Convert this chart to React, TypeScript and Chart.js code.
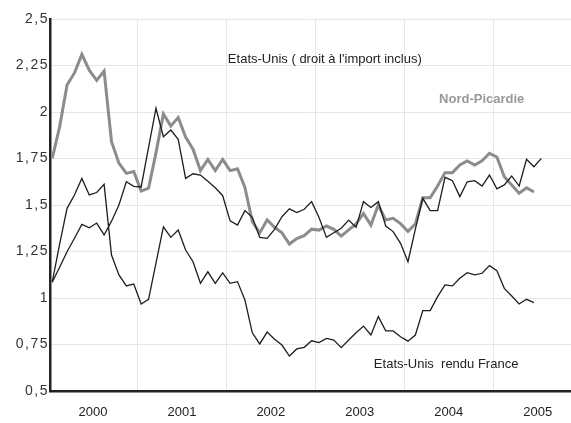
import React, { useEffect, useRef } from 'react';
import { Chart, registerables } from 'chart.js';

Chart.register(...registerables);

const years = ['2000', '2001', '2002', '2003', '2004', '2005'];

const yTicks = [0.5, 0.75, 1, 1.25, 1.5, 1.75, 2, 2.25, 2.5];

const nordPicardie = [
  1.75, 1.92, 2.145, 2.21, 2.31, 2.225, 2.17, 2.22, 1.84, 1.725, 1.67, 1.68,
  1.575, 1.59, 1.78, 1.99, 1.925, 1.97, 1.865, 1.8, 1.685, 1.745, 1.685, 1.745,
  1.685, 1.695, 1.595, 1.41, 1.35, 1.42, 1.38, 1.35, 1.29, 1.32, 1.335, 1.37,
  1.365, 1.387, 1.369, 1.333, 1.366, 1.398, 1.455, 1.392, 1.5, 1.419, 1.428, 1.4,
  1.358, 1.398, 1.539, 1.539, 1.602, 1.674, 1.674, 1.715, 1.737, 1.715, 1.737, 1.778,
  1.758, 1.652, 1.608, 1.563, 1.593, 1.57,
];

const usImport = [
  1.085, 1.165, 1.249, 1.321, 1.396, 1.377, 1.403, 1.339, 1.413, 1.5, 1.625, 1.6,
  1.597, 1.81, 2.02, 1.867, 1.903, 1.853, 1.643, 1.668, 1.661, 1.628, 1.593, 1.55,
  1.415, 1.392, 1.47, 1.434, 1.326, 1.321, 1.369, 1.437, 1.479, 1.459, 1.477, 1.518,
  1.433, 1.326, 1.351, 1.375, 1.419, 1.38, 1.518, 1.487, 1.518, 1.387, 1.357, 1.294,
  1.195, 1.37, 1.536, 1.47, 1.47, 1.649, 1.631, 1.545, 1.625, 1.631, 1.602, 1.661,
  1.587, 1.608, 1.656, 1.602, 1.746, 1.706, 1.751,
];

const usRenduFrance = [
  1.085, 1.29, 1.482, 1.554, 1.643, 1.554, 1.567, 1.611, 1.231, 1.124, 1.065, 1.075,
  0.968, 0.993, 1.187, 1.383, 1.326, 1.366, 1.258, 1.195, 1.079, 1.141, 1.079, 1.135,
  1.079, 1.088, 0.989, 0.813, 0.753, 0.817, 0.778, 0.747, 0.688, 0.726, 0.735, 0.77,
  0.76, 0.783, 0.774, 0.733, 0.774, 0.813, 0.849, 0.801, 0.9, 0.824, 0.823, 0.792,
  0.768, 0.801, 0.932, 0.932, 1.007, 1.07, 1.065, 1.106, 1.136, 1.124, 1.133, 1.174,
  1.147, 1.052, 1.011, 0.968, 0.993, 0.975,
];

const labelImport = "Etats-Unis ( droit à l'import inclus)";
const labelNord = 'Nord-Picardie';
const labelRendu = 'Etats-Unis  rendu France';

const FONT = "'Liberation Sans', Arial, sans-serif";
const X_MIN = -0.3;
const X_MAX = 70;

const toPoints = (arr: number[]) => arr.map((v, i) => ({ x: i, y: v }));
const fmt = (v: number) => String(v).replace('.', ',');

const textPlugin = {
  id: 'textLabels',
  afterDatasetsDraw(chart: any) {
    const { ctx, scales } = chart;
    const items = [
      { text: labelImport, x: 23.7, y: 2.285, color: '#222', weight: 'normal' },
      { text: labelNord, x: 52.2, y: 2.065, color: '#999', weight: 'bold' },
      { text: labelRendu, x: 43.4, y: 0.645, color: '#222', weight: 'normal' },
    ];
    ctx.save();
    ctx.textAlign = 'left';
    ctx.textBaseline = 'middle';
    items.forEach((it) => {
      ctx.font = `${it.weight} 13px ${FONT}`;
      ctx.fillStyle = it.color;
      ctx.fillText(it.text, scales.x.getPixelForValue(it.x), scales.y.getPixelForValue(it.y));
    });
    // y tick labels (slightly wider spacing, like the original)
    ctx.font = `14px ${FONT}`;
    ctx.fillStyle = '#333';
    ctx.textAlign = 'right';
    try {
      (ctx as any).letterSpacing = '1.5px';
    } catch (e) {}
    yTicks.forEach((v) => {
      ctx.fillText(fmt(v), scales.y.left + scales.y.width - 1, scales.y.getPixelForValue(v));
    });
    ctx.restore();
  },
};

export default function App() {
  const ref = useRef<HTMLCanvasElement | null>(null);

  useEffect(() => {
    document.body.style.margin = '0';
    if (!ref.current) return;
    const boundaries = years.map((_, k) => 11.5 + 12 * k);
    const centers = years.map((_, k) => 5.5 + 12 * k);
    const chart = new Chart(ref.current, {
      type: 'line',
      data: {
        datasets: [
          {
            label: labelImport,
            data: toPoints(usImport),
            borderColor: '#1e1e1e',
            borderWidth: 1.3,
            pointRadius: 0,
            tension: 0,
            order: 0,
          },
          {
            label: labelRendu,
            data: toPoints(usRenduFrance),
            borderColor: '#1e1e1e',
            borderWidth: 1.3,
            pointRadius: 0,
            tension: 0,
            order: 0,
          },
          {
            label: labelNord,
            data: toPoints(nordPicardie),
            borderColor: '#8c8c8c',
            borderWidth: 3,
            pointRadius: 0,
            tension: 0,
            order: 1,
          },
        ],
      },
      options: {
        responsive: false,
        animation: false,
        layout: { padding: { top: 19, right: 0, left: 0, bottom: 0 } },
        plugins: { legend: { display: false }, tooltip: { enabled: false } },
        scales: {
          x: {
            type: 'linear',
            min: X_MIN,
            max: X_MAX,
            afterBuildTicks: (scale: any) => {
              const t = [...boundaries, ...centers]
                .filter((v) => v >= X_MIN && v <= X_MAX)
                .sort((a, b) => a - b);
              scale.ticks = t.map((v) => ({ value: v }));
            },
            afterFit: (scale: any) => {
              scale.height = 32;
              scale.paddingLeft = 0;
              scale.paddingRight = 0;
            },
            grid: {
              color: (ctx: any) => {
                const v = ctx.tick ? ctx.tick.value : 0;
                return boundaries.includes(v) ? '#e6e6e6' : 'rgba(0,0,0,0)';
              },
              lineWidth: 1,
              drawTicks: false,
            },
            border: { color: '#222', width: 2.5 },
            ticks: {
              autoSkip: false,
              maxRotation: 0,
              padding: 14,
              color: '#222',
              font: { family: FONT, size: 13 },
              callback: (value: any) => {
                const k = centers.indexOf(Number(value));
                return k >= 0 ? years[k] : '';
              },
            },
          },
          y: {
            type: 'linear',
            min: 0.5,
            max: 2.5,
            afterBuildTicks: (scale: any) => {
              scale.ticks = yTicks.map((v) => ({ value: v }));
            },
            afterFit: (scale: any) => {
              scale.width = 50;
            },
            grid: { color: '#e6e6e6', lineWidth: 1, drawTicks: false },
            border: { color: '#222', width: 2.5 },
            ticks: {
              padding: 4,
              color: 'rgba(0,0,0,0)',
              font: { family: FONT, size: 13 },
              callback: (value: any) => fmt(Number(value)),
            },
          },
        },
      },
      plugins: [textPlugin],
    });
    return () => chart.destroy();
  }, []);

  return (
    <div style={{ position: 'absolute', left: 0, top: 0, width: 571, height: 423 }}>
      <canvas ref={ref} width={571} height={423} style={{ display: 'block' }} />
    </div>
  );
}
